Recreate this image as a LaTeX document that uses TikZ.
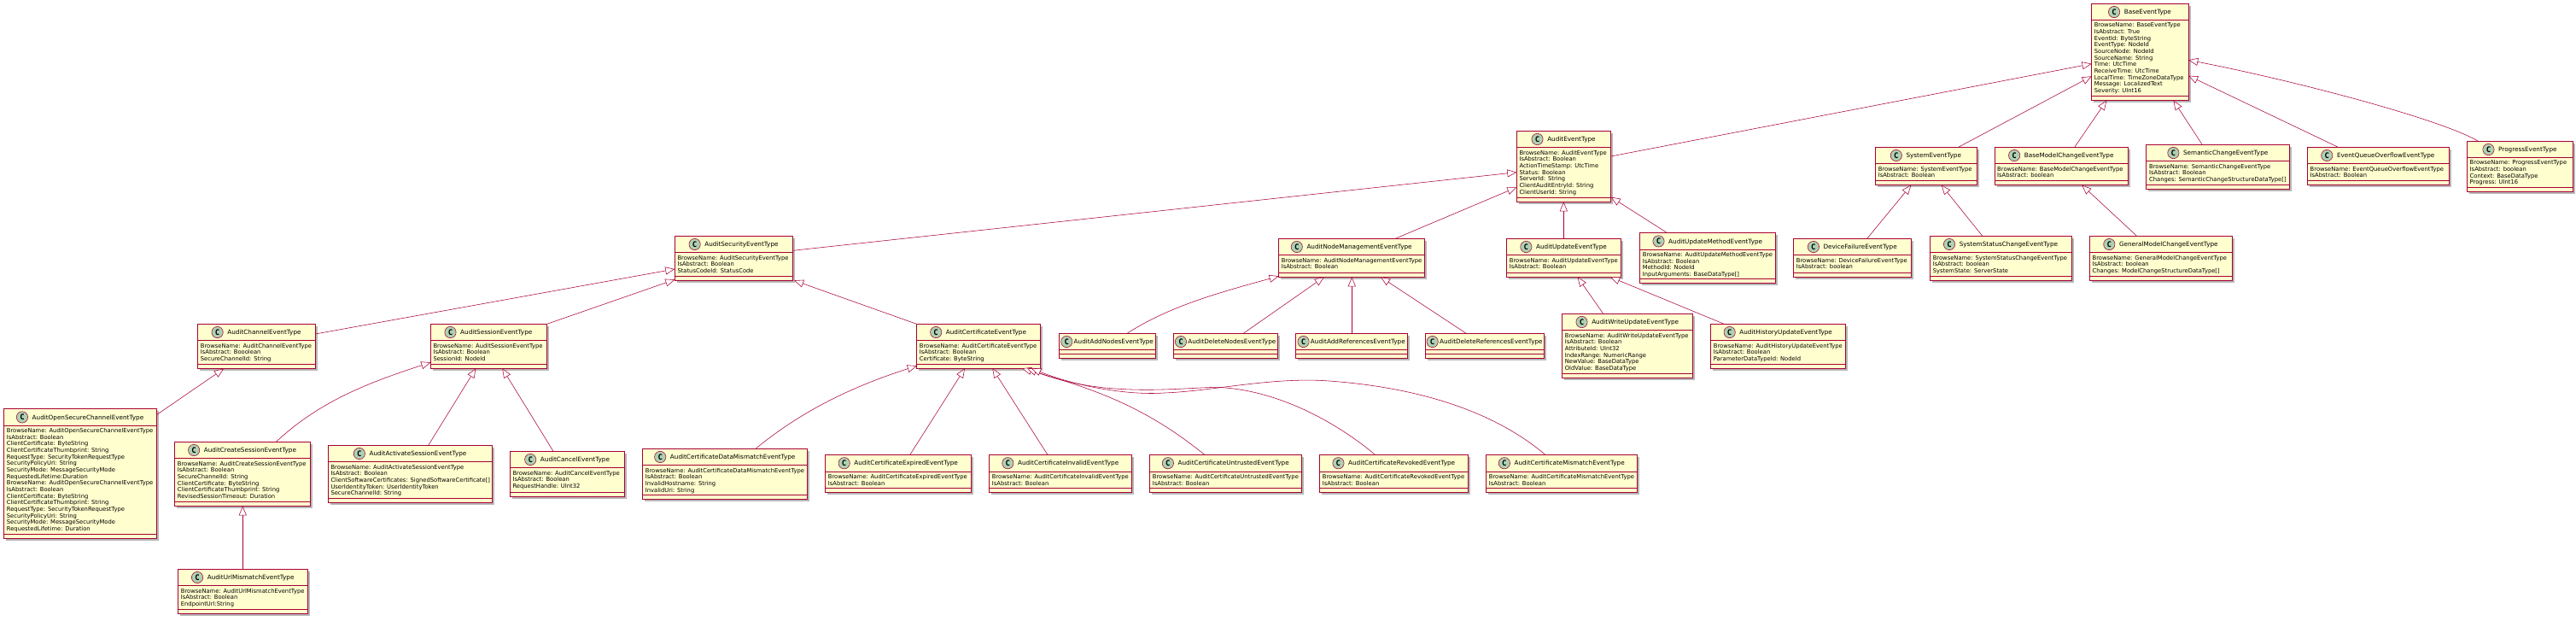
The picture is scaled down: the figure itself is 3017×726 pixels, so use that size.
\documentclass[tikz,border=0pt]{standalone}
\usepackage{fontspec}
\setmainfont{DejaVu Sans}
\newfontfamily\markfont{DejaVu Sans Mono}
\usetikzlibrary{arrows.meta,positioning,shadows}
\definecolor{umlred}{HTML}{A80036}
\definecolor{classyellow}{HTML}{FEFECE}
\definecolor{markgreen}{HTML}{ADD1B2}
\newcommand{\classnode}[8][4.6]{
  \node[classbox, minimum width={(#5-#3)*1pt}, minimum height={(#6-#4)*1pt}] (#2) at ({(#3+#5)/2},{(#4+#6)/2}) {};
  \draw[classline] ([yshift=-19.5pt]#2.north west) -- ([yshift=-19.5pt]#2.north east);
  \draw[classline] ([yshift=5pt]#2.south west) -- ([yshift=5pt]#2.south east);
  \node[classtitle] (#2-title) at ({(#3+#5)/2+(13.3+#1)/2},{#4+9.7}) {#7};
  \node[classmark, left=#1pt of #2-title] (#2-mark) {C};
  \node[classbody] (#2-body) at ({#3+3},{#4+22.5}) {#8};
}
\begin{document}
\begin{tikzpicture}[x=1pt,y=-1pt,>={Triangle[open,fill=white,length=11pt,width=9pt]}]
  \tikzstyle{classbox}=[draw=umlred, fill=classyellow, line width=.9pt, inner sep=0pt, outer sep=0pt,
    drop shadow={shadow xshift=2.5pt, shadow yshift=-2.5pt, fill=black!40, opacity=.7}]
  \tikzstyle{classline}=[draw=umlred, line width=.9pt]
  \tikzstyle{classtitle}=[font=\fontsize{7.25}{8}\selectfont, inner sep=0pt, text height=5.3pt, text depth=0pt]
  \tikzstyle{classmark}=[circle, draw=umlred, fill=markgreen, line width=.55pt, minimum size=13.3pt, inner sep=0pt,
    font=\markfont\bfseries\fontsize{9}{9}\selectfont]
  \tikzstyle{classbody}=[anchor=north west, inner sep=0pt, align=left, font=\fontsize{6.76}{7.67}\selectfont]
  \tikzstyle{extends}=[->, draw=umlred, line width=.55pt]

  \useasboundingbox (0,0) rectangle (3017,726);

  \classnode{base}{2449.6}{4.3}{2563.2}{117.7}{BaseEventType}{BrowseName: BaseEventType\\IsAbstract: True\\EventId: ByteString\\EventType: NodeId\\SourceNode: NodeId\\SourceName: String\\Time: UtcTime\\ReceiveTime: UtcTime\\LocalTime: TimeZoneDataType\\Message: LocalizedText\\Severity: UInt16}
  \classnode{audit}{1776.3}{153.3}{1886.7}{236.3}{AuditEventType}{BrowseName: AuditEventType\\IsAbstract: Boolean\\ActionTimeStamp: UtcTime\\Status: Boolean\\ServerId: String\\ClientAuditEntryId: String\\ClientUserId: String}
  \classnode{system}{2196.6}{172.3}{2315}{216.7}{SystemEventType}{BrowseName: SystemEventType\\IsAbstract: Boolean}
  \classnode{modelchange}{2336}{172.3}{2492.4}{216.7}{BaseModelChangeEventType}{BrowseName: BaseModelChangeEventType\\IsAbstract: boolean}
  \classnode{semantic}{2513.9}{169.3}{2681.6}{221.3}{SemanticChangeEventType}{BrowseName: SemanticChangeEventType\\IsAbstract: Boolean\\Changes: SemanticChangeStructureDataType[]}
  \classnode{overflow}{2702.5}{172.3}{2868}{216.7}{EventQueueOverflowEventType}{BrowseName: EventQueueOverflowEventType\\IsAbstract: Boolean}
  \classnode{progress}{2889.5}{165.3}{3013.3}{224.8}{ProgressEventType}{BrowseName: ProgressEventType\\IsAbstract: boolean\\Context: BaseDataType\\Progress: UInt16}
  \classnode{device}{2100.7}{279.3}{2238.7}{324.3}{DeviceFailureEventType}{BrowseName: DeviceFailureEventType\\IsAbstract: boolean}
  \classnode{statuschange}{2260.6}{276.3}{2426.3}{328.3}{SystemStatusChangeEventType}{BrowseName: SystemStatusChangeEventType\\IsAbstract: boolean\\SystemState: ServerState}
  \classnode{generalmodel}{2447.4}{276.3}{2614.3}{328.3}{GeneralModelChangeEventType}{BrowseName: GeneralModelChangeEventType\\IsAbstract: boolean\\Changes: ModelChangeStructureDataType[]}
  \classnode{security}{790.3}{276.3}{928.7}{328.3}{AuditSecurityEventType}{BrowseName: AuditSecurityEventType\\IsAbstract: Boolean\\StatusCodeId: StatusCode}
  \classnode{nodemgmt}{1497.6}{279.3}{1668.6}{324.3}{AuditNodeManagementEventType}{BrowseName: AuditNodeManagementEventType\\IsAbstract: Boolean}
  \classnode{update}{1764.7}{279.3}{1898.3}{324.3}{AuditUpdateEventType}{BrowseName: AuditUpdateEventType\\IsAbstract: Boolean}
  \classnode{updatemethod}{1920.7}{272.7}{2079.7}{331.7}{AuditUpdateMethodEventType}{BrowseName: AuditUpdateMethodEventType\\IsAbstract: Boolean\\MethodId: NodeId\\InputArguments: BaseDataType[]}
  \classnode{channel}{231.7}{379.3}{369.3}{431.7}{AuditChannelEventType}{BrowseName: AuditChannelEventType\\IsAbstract: Booolean\\SecureChannelId: String}
  \classnode{session}{504.3}{379.3}{640.3}{431.3}{AuditSessionEventType}{BrowseName: AuditSessionEventType\\IsAbstract: Boolean\\SessionId: NodeId}
  \classnode{certificate}{1073.7}{379.3}{1218.3}{431.3}{AuditCertificateEventType}{BrowseName: AuditCertificateEventType\\IsAbstract: Boolean\\Certificate: ByteString}
  \classnode[1.3]{addnodes}{1240.3}{390.3}{1353.7}{419.3}{AuditAddNodesEventType}{}
  \classnode[1.3]{delnodes}{1374.7}{390.3}{1496.4}{419.3}{AuditDeleteNodesEventType}{}
  \classnode[1.3]{addrefs}{1517.8}{390.3}{1648.3}{419.3}{AuditAddReferencesEventType}{}
  \classnode[1.3]{delrefs}{1669.4}{390.3}{1808.7}{419.3}{AuditDeleteReferencesEventType}{}
  \classnode{writeupdate}{1829.7}{367.3}{1982.7}{442.3}{AuditWriteUpdateEventType}{BrowseName: AuditWriteUpdateEventType\\IsAbstract: Boolean\\AttributeId: UInt32\\IndexRange: NumericRange\\NewValue: BaseDataType\\OldValue: BaseDataType}
  \classnode{historyupdate}{2003.7}{379.3}{2161.7}{431.3}{AuditHistoryUpdateEventType}{BrowseName: AuditHistoryUpdateEventType\\IsAbstract: Boolean\\ParameterDataTypeId: NodeId}
  \classnode{opensecure}{4.7}{478.7}{183.3}{630.3}{AuditOpenSecureChannelEventType}{BrowseName: AuditOpenSecureChannelEventType\\IsAbstract: Boolean\\ClientCertificate: ByteString\\ClientCertificateThumbprint: String\\RequestType: SecurityTokenRequestType\\SecurityPolicyUri: String\\SecurityMode: MessageSecurityMode\\RequestedLifetime:Duration\\BrowseName: AuditOpenSecureChannelEventType\\IsAbstract: Boolean\\ClientCertificate: ByteString\\ClientCertificateThumbprint: String\\RequestType: SecurityTokenRequestType\\SecurityPolicyUri: String\\SecurityMode: MessageSecurityMode\\RequestedLifetime: Duration}
  \classnode{createsession}{204.7}{517.3}{363.3}{592.3}{AuditCreateSessionEventType}{BrowseName: AuditCreateSessionEventType\\IsAbstract: Boolean\\SecureChannelId: String\\ClientCertificate: ByteString\\ClientCertificateThumbprint: String\\RevisedSessionTimeout: Duration}
  \classnode{urlmismatch}{208.7}{666.3}{360.7}{718.3}{AuditUrlMismatchEventType}{BrowseName: AuditUrlMismatchEventType\\IsAbstract: Boolean\\EndpointUrl:String}
  \classnode{activatesession}{384.3}{521.3}{576.7}{588.3}{AuditActivateSessionEventType}{BrowseName: AuditActivateSessionEventType\\IsAbstract: Boolean\\ClientSoftwareCertificates: SignedSoftwareCertificate[]\\UserIdentityToken: UserIdentityToken\\SecureChannelId: String}
  \classnode{cancel}{597.3}{528.3}{731.7}{581}{AuditCancelEventType}{BrowseName: AuditCancelEventType\\IsAbstract: Boolean\\RequestHandle: UInt32}
  \classnode{certdata}{752.7}{525.3}{945.7}{584.3}{AuditCertificateDataMismatchEventType}{BrowseName: AuditCertificateDataMismatchEventType\\IsAbstract: Boolean\\InvalidHostname: String\\InvalidUri: String}
  \classnode{certexpired}{966.7}{532.5}{1137.7}{576.3}{AuditCertificateExpiredEventType}{BrowseName: AuditCertificateExpiredEventType\\IsAbstract: Boolean}
  \classnode{certinvalid}{1158.7}{532.5}{1325.7}{576.3}{AuditCertificateInvalidEventType}{BrowseName: AuditCertificateInvalidEventType\\IsAbstract: Boolean}
  \classnode{certuntrusted}{1346.7}{532.5}{1524.7}{576.3}{AuditCertificateUntrustedEventType}{BrowseName: AuditCertificateUntrustedEventType\\IsAbstract: Boolean}
  \classnode{certrevoked}{1545.7}{532.5}{1719.7}{576.3}{AuditCertificateRevokedEventType}{BrowseName: AuditCertificateRevokedEventType\\IsAbstract: Boolean}
  \classnode{certmismatch}{1740.7}{532.5}{1917.7}{576.3}{AuditCertificateMismatchEventType}{BrowseName: AuditCertificateMismatchEventType\\IsAbstract: Boolean}

  \draw[extends] (audit.east |- 0,183) -- (base.west |- 0,74.7);
  \draw[extends] (2293.6,0 |- system.north) -- (base.west |- 0,89.3);
  \draw[extends] (2429.7,0 |- modelchange.north) -- (2467.2,0 |- base.south);
  \draw[extends] (2579.2,0 |- semantic.north) -- (2545.5,0 |- base.south);
  \draw[extends] (2738.4,0 |- overflow.north) -- (base.east |- 0,88.7);
  \draw[extends] (2902.4,0 |- progress.north) .. controls (2860,140) and (2690,95) .. (base.east |- 0,70.3);
  \draw[extends] (security.east |- 0,293.3) -- (audit.west |- 0,201.7);
  \draw[extends] (1634.2,0 |- nodemgmt.north) -- (audit.west |- 0,219.3);
  \draw[extends] (1831.3,0 |- update.north) -- (1831.3,0 |- audit.south);
  \draw[extends] (1952.7,0 |- updatemethod.north) -- (audit.east |- 0,230.7);
  \draw[extends] (2186.7,0 |- device.north) -- (2238.3,0 |- system.south);
  \draw[extends] (2321.8,0 |- statuschange.north) -- (2273.8,0 |- system.south);
  \draw[extends] (2502.6,0 |- generalmodel.north) -- (2438.3,0 |- modelchange.south);
  \draw[extends] (1877.7,0 |- writeupdate.north) -- (1847.7,0 |- update.south);
  \draw[extends] (2019.3,0 |- historyupdate.north) -- (1886,0 |- update.south);
  \draw[extends] (1320,0 |- addnodes.north) .. controls (1370,358) and (1430,342) .. (nodemgmt.west |- 0,323.3);
  \draw[extends] (1456.2,0 |- delnodes.north) -- (1550.8,0 |- nodemgmt.south);
  \draw[extends] (1583.3,0 |- addrefs.north) -- (1583.3,0 |- nodemgmt.south);
  \draw[extends] (1717.2,0 |- delrefs.north) -- (1617,0 |- nodemgmt.south);
  \draw[extends] (channel.east |- 0,391) -- (security.west |- 0,315);
  \draw[extends] (640.7,0 |- session.north) -- (security.west |- 0,327.3);
  \draw[extends] (1073.5,0 |- certificate.north) -- (930,0 |- security.south);
  \draw[extends] (opensecure.east |- 0,485.7) -- (262,0 |- channel.south);
  \draw[extends] (323.3,0 |- createsession.north) .. controls (372,472) and (425,450) .. (session.west |- 0,424.3);
  \draw[extends] (501.7,0 |- activatesession.north) -- (557.3,0 |- session.south);
  \draw[extends] (648,0 |- cancel.north) -- (588.3,0 |- session.south);
  \draw[extends] (284.3,0 |- urlmismatch.north) -- (284.3,0 |- createsession.south);
  \draw[extends] (885,0 |- certdata.north) .. controls (940,480) and (1000,452) .. (certificate.west |- 0,428.3);
  \draw[extends] (1065.7,0 |- certexpired.north) -- (1130,0 |- certificate.south);
  \draw[extends] (1227,0 |- certinvalid.north) -- (1162.3,0 |- certificate.south);
  \draw[extends] (1411,0 |- certuntrusted.north) .. controls (1340,475) and (1280,455) .. (1197,0 |- certificate.south);
  \draw[extends] (1610.7,0 |- certrevoked.north) .. controls (1560,490) and (1490,455) .. (1423,453.3) .. controls (1370,455) and (1290,465) .. (1203,0 |- certificate.south);
  \draw[extends] (1810,0 |- certmismatch.north) .. controls (1760,490) and (1680,455) .. (1556.7,446) .. controls (1490,441) and (1420,458) .. (1363.3,460) .. controls (1320,463) and (1260,452) .. (1208,0 |- certificate.south);
\end{tikzpicture}
\end{document}
